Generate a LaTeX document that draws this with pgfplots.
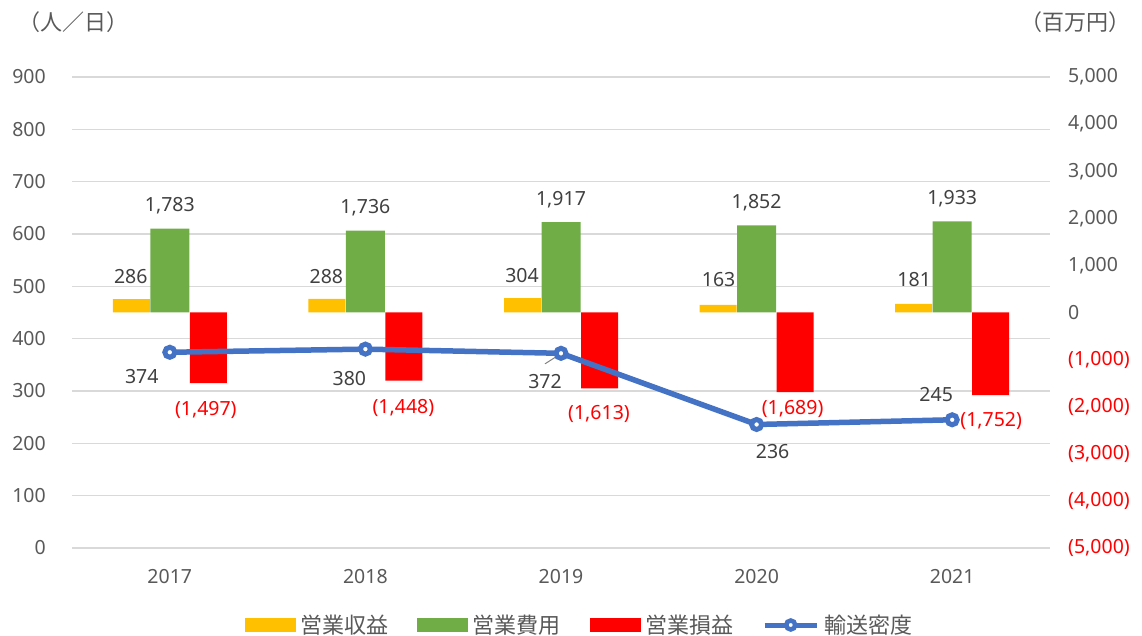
\documentclass[border=0pt]{standalone}
\usepackage{fontspec}
\setmainfont{Noto Sans}
\newfontfamily\jp{Noto Sans CJK JP}
\usepackage{pgfplots}
\pgfplotsset{compat=1.18}
\usepackage{pgfplotstable}
\definecolor{cyel}{HTML}{FFC000}
\definecolor{cgreen}{HTML}{70AD47}
\definecolor{cred}{HTML}{FF0000}
\definecolor{cblue}{HTML}{4472C4}
\definecolor{gridgray}{HTML}{D9D9D9}
\definecolor{tickgray}{HTML}{595959}
\definecolor{lblgray}{HTML}{404040}
\newcommand\numsz{\fontsize{19.5}{23}\selectfont}
\newcommand\jpsz{\jp\fontsize{22}{26}\selectfont}

\pgfplotstableread{
x y lab dx dy
0 286 286 -39 22
1 288 288 -39 22
2 304 304 -39 23
3 163 163 -38 25
4 181 181 -38 24
}\rev
\pgfplotstableread{
x y lab dx dy
0 1783 1,783 0 23
1 1736 1,736 0 23
2 1917 1,917 0 23
3 1852 1,852 0 23
4 1933 1,933 0 23
}\cost
\pgfplotstableread{
x y lab dx dy
0 -1497 (1,497) 36 -27
1 -1448 (1,448) 38 -27
2 -1613 (1,613) 38 -26
3 -1689 (1,689) 36 -17
4 -1752 (1,752) 39 -26
}\loss
\pgfplotstableread{
x y lab dx dy
0 374 374 -28 -24
1 380 380 -16 -29
2 372 372 -16 -28
3 236 236 16 -27
4 245 245 -16 25
}\dens

\pgfplotsset{
 base/.style={at={(72pt,88pt)}, anchor=south west, scale only axis,
   width=978pt, height=471pt, xmin=-0.5, xmax=4.5, clip=false},
 lbl/.style={nodes near coords, point meta=explicit symbolic,
   visualization depends on={\thisrow{dx}\as\labdx},
   visualization depends on={\thisrow{dy}\as\labdy},
   every node near coord/.append style={anchor=center, inner sep=0pt,
     xshift=\labdx pt, yshift=\labdy pt, font=\numsz}},
}

\begin{document}
\begin{tikzpicture}[x=1pt,y=1pt]
\path[use as bounding box] (0,0) rectangle (1142,636);

% grid, left ticks, x ticks
\begin{axis}[base, ymin=0, ymax=900,
  ytick={0,100,...,900},
  yticklabels={0,100,200,300,400,500,600,700,800,900},
  xtick={0,1,2,3,4},
  xticklabels={2017,2018,2019,2020,2021},
  ymajorgrids, grid style={draw=gridgray, line width=1.4pt},
  axis line style={draw=none}, major tick length=0pt,
  yticklabel style={anchor=east, inner sep=0pt, xshift=-26pt, font=\numsz, text=tickgray},
  xticklabel style={anchor=center, inner sep=0pt, yshift=-29pt, font=\numsz, text=tickgray}]
\addplot[draw=none] coordinates {(0,0)};
\end{axis}

% bars on the right axis
\begin{axis}[base, ymin=-5000, ymax=5000,
  axis x line=none, axis y line*=right, axis line style={draw=none},
  major tick length=0pt,
  ytick={-5000,-4000,-3000,-2000,-1000,0,1000,2000,3000,4000,5000},
  yticklabels={{\color{cred}(5,000)},{\color{cred}(4,000)},{\color{cred}(3,000)},{\color{cred}(2,000)},{\color{cred}(1,000)},0,{1,000},{2,000},{3,000},{4,000},{5,000}},
  yticklabel style={anchor=west, inner sep=0pt, xshift=18pt, font=\numsz, text=tickgray}]
\addplot[ybar, bar width=37pt, bar shift=-38.5pt, fill=cyel, draw=none, lbl,
  every node near coord/.append style={text=lblgray}] table[x=x,y=y,meta=lab]{\rev};
\addplot[ybar, bar width=39pt, bar shift=0pt, fill=cgreen, draw=none, lbl,
  every node near coord/.append style={text=lblgray}] table[x=x,y=y,meta=lab]{\cost};
\addplot[ybar, bar width=37pt, bar shift=38.5pt, fill=cred, draw=none, lbl,
  every node near coord/.append style={text=cred}] table[x=x,y=y,meta=lab]{\loss};
\end{axis}

% line on the left axis
\begin{axis}[base, ymin=0, ymax=900, hide axis,
  legend columns=4,
  legend style={at={(0.518,-0.1635)}, anchor=center, draw=none, fill=none,
    font=\jpsz, text=tickgray, inner sep=0pt, outer sep=0pt,
    nodes={inner sep=0pt}, cells={anchor=west},
    /tikz/every odd column/.append style={column sep=5pt},
    /tikz/every even column/.append style={column sep=29pt}}]
\addlegendimage{legend image code/.code={\fill[cyel] (0pt,-6.5pt) rectangle (50pt,6.5pt);}}
\addlegendentry{営業収益}
\addlegendimage{legend image code/.code={\fill[cgreen] (0pt,-6.5pt) rectangle (50pt,6.5pt);}}
\addlegendentry{営業費用}
\addlegendimage{legend image code/.code={\fill[cred] (0pt,-6.5pt) rectangle (50pt,6.5pt);}}
\addlegendentry{営業損益}
\addplot[color=cblue, line width=5.5pt, mark=*, mark size=5pt,
  mark options={fill=white, draw=cblue, line width=5pt},
  legend image code/.code={\draw[cblue, line width=5pt] (0pt,0pt) -- (52pt,0pt);
    \draw[cblue, line width=4.5pt, fill=white] (26pt,0pt) circle (4.5pt);},
  lbl, every node near coord/.append style={text=lblgray}]
  table[x=x,y=y,meta=lab]{\dens};
\addlegendentry{輸送密度}
\draw[gray, line width=1pt] (axis cs:2,372) ++(-5pt,-3.5pt) -- ++(-11pt,-7pt);
\end{axis}

\node[font=\jpsz, text=tickgray] at (73,614) {（人／日）};
\node[font=\jpsz, text=tickgray] at (1075,614) {（百万円）};
\end{tikzpicture}
\end{document}
